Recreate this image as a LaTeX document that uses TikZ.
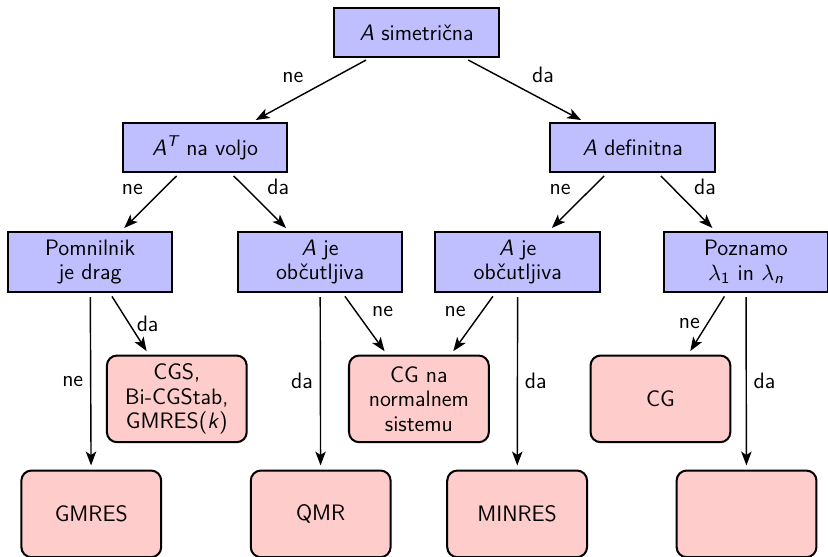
\documentclass[tikz,border=0pt]{standalone}
\usepackage{amsmath}
\usepackage{xcolor}
\usepackage{tikz}
\usetikzlibrary{arrows.meta, positioning, calc}
\renewcommand{\familydefault}{\sfdefault}
\tikzset{
  question/.style={draw, fill=blue!25, minimum width=2.85cm, minimum height=0.85cm, align=center, line width=1pt},
  method/.style={draw, rounded corners=5pt, minimum width=2.42cm, minimum height=1.5cm, align=center, fill=red!20, line width=1pt},
  link/.style={-{Stealth[length=2.4mm, width=1.8mm, inset=0.6mm]}, line width=0.7pt, shorten <=2pt, shorten >=2pt}
}

\begin{document}
\begin{tikzpicture}[font=\fontsize{11}{12}\selectfont]
        \useasboundingbox (-7.21,0.563) rectangle (7.12,-9.06);

        % Questions
        \node[question] (sym) at (0,0) {\textit{A} simetrična};
        \node[question] (atr)  at (-3.66,-1.99) {$\textit{A}^{\textit{T}}$ na voljo};
        \node[question] (defn) at ( 3.74,-1.99) {\textit{A} definitna};
        \node[question, minimum height=1.04cm] (mem)   at (-5.65,-3.97) {Pomnilnik\\je drag};
        \node[question, minimum height=1.04cm] (sensL) at (-1.67,-3.97) {\textit{A} je\\občutljiva};
        \node[question, minimum height=1.04cm] (sensR) at ( 1.75,-3.97) {\textit{A} je\\občutljiva};
        \node[question, minimum height=1.04cm] (eig)   at ( 5.70,-3.97) {Poznamo\\$\lambda_{\textup{1}}$ in $\lambda_{\textit{n}}$};

        % Methods
        \node[method] (cgs) at (-4.15,-6.34) {CGS,\\Bi-CGStab,\\GMRES(\textit{k})};
        \node[method] (cgn) at ( 0.04,-6.34) {CG na\\normalnem\\sistemu};
        \node[method] (cg)  at ( 4.22,-6.34) {CG};
        \node[method] (gmres)  at (-5.63,-8.33) {GMRES};
        \node[method] (qmr)    at (-1.66,-8.33) {QMR};
        \node[method] (minres) at ( 1.74,-8.33) {MINRES};
        \node[method] (blank)  at ( 5.71,-8.33) {};

        % Links
        \draw[link] (sym) -- node[above left] {ne} (atr);
        \draw[link] (sym) -- node[above right] {da} (defn);

        \draw[link] (atr) -- node[above left] {ne} (mem);
        \draw[link] (atr) -- node[above right] {da} (sensL);
        \draw[link] (defn) -- node[above left] {ne} (sensR);
        \draw[link] (defn) -- node[above right] {da} (eig);

        \draw[link] (mem) -- node[left] {ne} (gmres);
        \draw[link] (mem) -- node[right] {da} (cgs);
        \draw[link] (sensL) -- node[left] {da} (qmr);
        \draw[link] (sensL) -- node[above right] {ne} (cgn);
        \draw[link] (sensR) -- node[above left] {ne} (cgn);
        \draw[link] (sensR) -- node[right] {da} (minres);
        \draw[link] (eig) -- node[left] {ne} (cg);
        \draw[link] (eig) -- node[right] {da} (blank);
    \end{tikzpicture}
\end{document}
